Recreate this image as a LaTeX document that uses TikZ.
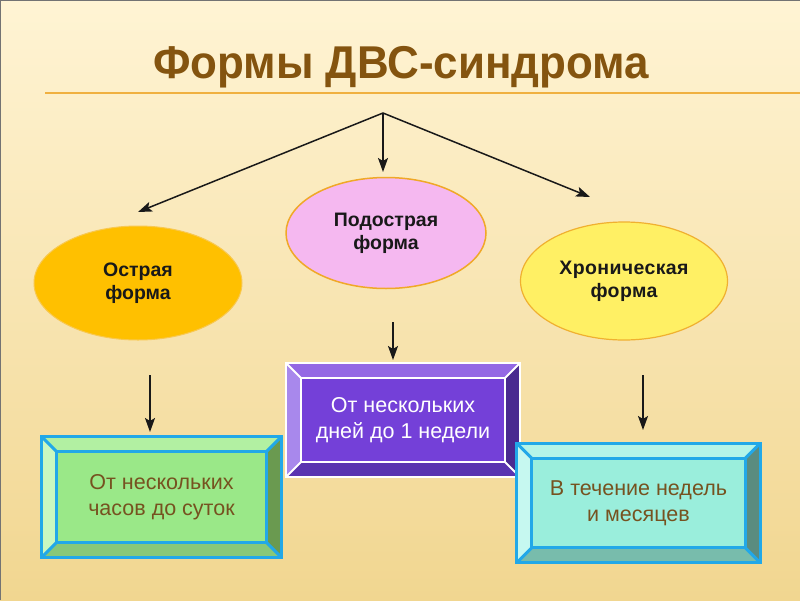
\documentclass[tikz,border=0pt]{standalone}
\usepackage{fontspec}
\setmainfont{Liberation Sans}
\usetikzlibrary{calc,arrows.meta,shapes.geometric}
\definecolor{bgtop}{HTML}{FFF4D4}
\definecolor{bgmid}{HTML}{FCEBBC}
\definecolor{bgbot}{HTML}{F1D690}
\definecolor{titlec}{HTML}{84540F}
\definecolor{rulec}{HTML}{F0B040}
\definecolor{ostf}{HTML}{FFC000}
\definecolor{ostd}{HTML}{F8C850}
\definecolor{podf}{HTML}{F5B8F0}
\definecolor{podd}{HTML}{F0A828}
\definecolor{hronf}{HTML}{FFF064}
\definecolor{hrond}{HTML}{F0B030}
\definecolor{txtbrown}{HTML}{765220}
\definecolor{bluebd}{HTML}{22A8E8}
\definecolor{gface}{HTML}{9AE888}
\definecolor{gtop}{HTML}{B2F0A2}
\definecolor{gleft}{HTML}{CAF8C0}
\definecolor{gright}{HTML}{6A9A50}
\definecolor{gbot}{HTML}{88C878}
\definecolor{pface}{HTML}{7440D8}
\definecolor{ptop}{HTML}{9468E4}
\definecolor{pleft}{HTML}{A888EC}
\definecolor{pright}{HTML}{4A2A90}
\definecolor{pbot}{HTML}{5A34B0}
\definecolor{cface}{HTML}{9AEEDC}
\definecolor{ctop}{HTML}{B4F4E8}
\definecolor{cleft}{HTML}{C6F8F0}
\definecolor{cright}{HTML}{5A8C80}
\definecolor{cbot}{HTML}{78BCAC}
\newcommand\bevelframe[7]{%
  \fill[#2] (#1.north west) -- (#1.north east) -- ($(#1.north east)+(-15,15)$) -- ($(#1.north west)+(15,15)$) -- cycle;
  \fill[#3] (#1.north west) -- ($(#1.north west)+(15,15)$) -- ($(#1.south west)+(15,-15)$) -- (#1.south west) -- cycle;
  \fill[#4] (#1.north east) -- ($(#1.north east)+(-15,15)$) -- ($(#1.south east)+(-15,-15)$) -- (#1.south east) -- cycle;
  \fill[#5] (#1.south west) -- ($(#1.south west)+(15,-15)$) -- ($(#1.south east)+(-15,-15)$) -- (#1.south east) -- cycle;
  \draw[#6, line width=#7] (#1.north west) rectangle (#1.south east);
  \draw[#6, line width=#7] ($(#1.north west)+(15,15)$) rectangle ($(#1.south east)+(-15,-15)$);
  \draw[#6, line width=#7] (#1.north west) -- ($(#1.north west)+(15,15)$)
    (#1.north east) -- ($(#1.north east)+(-15,15)$)
    (#1.south west) -- ($(#1.south west)+(15,-15)$)
    (#1.south east) -- ($(#1.south east)+(-15,-15)$);
}
\begin{document}
\begin{tikzpicture}[x=1pt,y=-1pt,
  ell/.style={ellipse, inner sep=0pt, align=center, text=black!90,
    font=\fontsize{19.5}{23}\selectfont\bfseries},
  boxnode/.style={rectangle, inner sep=0pt, align=center,
    font=\fontsize{21.5}{26}\selectfont},
  arr/.style={line width=1.5pt, black!90, -{Stealth[length=14pt,width=10pt,inset=3pt]}}]
\useasboundingbox (0,0) rectangle (800,600);
\shade[top color=bgtop, middle color=bgmid, bottom color=bgbot] (0,0) rectangle (800,600);
\draw[black!55, line width=2pt] (0,600) -- (0,0) -- (800,0);
% title
\node[anchor=base, text=titlec, font=\fontsize{46}{50}\selectfont\bfseries] (ttl) at (401,78) {\scalebox{0.955}[1]{Формы ДВС-синдрома}};
\draw[rulec, line width=2pt] (45,93) -- (800,93);
% ellipses
\node[ell, fill=ostf, draw=ostd, line width=1pt, minimum width=208, minimum height=114] (ost) at (138,283) {Острая\\форма};
\node[ell, fill=podf, draw=podd, line width=1.5pt, minimum width=200, minimum height=111] (pod) at (386,233) {Подострая\\форма};
\node[ell, fill=hronf, draw=hrond, line width=1.2pt, minimum width=207, minimum height=118] (hron) at (624,281) {\addfontfeature{LetterSpace=2}Хроническая\\\addfontfeature{LetterSpace=2}форма};
% top arrows
\coordinate (src) at (383,113);
\coordinate (t1) at (138,212);
\coordinate (t2) at (383,172);
\coordinate (t3) at (590,197);
\draw[arr] (src) -- (t1);
\draw[arr] (src) -- (t2);
\draw[arr] (src) -- (t3);
% boxes
\node[boxnode, fill=pface, text=white, minimum width=234, minimum height=114] (pbox) at (403,420) {От нескольких\\дней до 1 недели};
\bevelframe{pbox}{ptop}{pleft}{pright}{pbot}{white}{2pt}
\node[boxnode, fill=gface, text=txtbrown, minimum width=239, minimum height=120] (gbox) at (161.5,497) {От нескольких\\часов до суток};
\bevelframe{gbox}{gtop}{gleft}{gright}{gbot}{bluebd}{3pt}
\node[boxnode, fill=cface, text=txtbrown, minimum width=243, minimum height=119] (cbox) at (638.5,503) {В течение недель\\и месяцев};
\bevelframe{cbox}{ctop}{cleft}{cright}{cbot}{bluebd}{3pt}
% down arrows
\coordinate (d1s) at (150,375);
\coordinate (d1e) at (150,432);
\coordinate (d2s) at (393,322);
\coordinate (d2e) at (393,360);
\coordinate (d3s) at (643,375);
\coordinate (d3e) at (643,430);
\draw[arr] (d1s) -- (d1e);
\draw[arr] (d2s) -- (d2e);
\draw[arr] (d3s) -- (d3e);
\end{tikzpicture}
\end{document}
